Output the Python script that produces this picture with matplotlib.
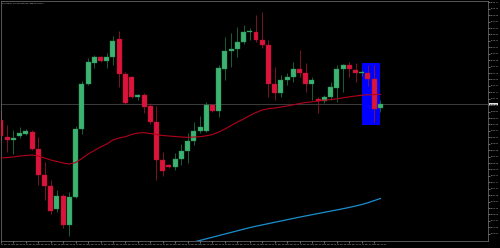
import matplotlib
matplotlib.use('Agg')
import matplotlib.pyplot as plt
import numpy as np
import pandas as pd
from matplotlib.patches import Rectangle

# 차트 헤더 텍스트
symbol_text = 'XAUUSD,H1  2389.58 2390.02 2388.81 2389.60'

# OHLC 데이터 (H1 캔들 62개)
opens = [2388.0, 2386.3, 2386.0, 2386.4, 2386.6, 2386.8, 2385.1, 2382.5, 2381.4, 2379.1,
         2380.4, 2377.5, 2380.3, 2387.1, 2391.6, 2393.7, 2394.3, 2393.9, 2394.3, 2396.1,
         2392.6, 2392.3, 2390.3, 2390.5, 2389.4, 2387.8, 2384.0, 2383.5, 2383.3, 2384.1,
         2384.9, 2385.9, 2386.9, 2386.9, 2389.5, 2388.9, 2393.1, 2394.9, 2395.1, 2395.8,
         2396.8, 2396.8, 2396.0, 2395.5, 2391.6, 2390.7, 2392.0, 2392.3, 2393.1, 2392.7,
         2391.6, 2390.1, 2389.9, 2390.3, 2391.2, 2393.1, 2393.5, 2393.0, 2392.7, 2392.7,
         2392.1, 2389.2]
highs = [2389.0, 2387.5, 2387.0, 2387.3, 2387.1, 2387.0, 2386.3, 2383.8, 2382.0, 2381.0,
         2380.6, 2380.8, 2387.4, 2391.9, 2394.2, 2394.5, 2394.4, 2394.7, 2396.4, 2396.9,
         2392.8, 2392.4, 2390.6, 2390.7, 2389.7, 2389.4, 2384.8, 2383.6, 2384.7, 2385.6,
         2386.7, 2387.8, 2388.4, 2389.8, 2389.6, 2393.5, 2396.3, 2396.7, 2397.3, 2397.5,
         2397.2, 2398.5, 2398.8, 2396.0, 2393.3, 2392.5, 2392.7, 2393.8, 2395.0, 2393.7,
         2392.3, 2390.3, 2390.5, 2391.8, 2393.5, 2393.6, 2393.8, 2393.7, 2393.0, 2393.5,
         2393.5, 2390.0]
lows = [2386.0, 2384.8, 2384.6, 2386.2, 2386.5, 2385.0, 2381.5, 2380.0, 2378.6, 2378.8,
        2377.2, 2376.4, 2380.2, 2386.6, 2391.5, 2393.2, 2393.8, 2393.2, 2393.5, 2391.3,
        2389.6, 2390.2, 2390.0, 2388.7, 2387.6, 2382.0, 2382.4, 2383.2, 2383.0, 2383.5,
        2383.7, 2385.5, 2386.7, 2386.8, 2388.8, 2388.3, 2392.0, 2393.3, 2394.3, 2395.6,
        2396.0, 2395.8, 2395.2, 2390.3, 2390.0, 2390.3, 2391.5, 2391.8, 2392.3, 2390.8,
        2390.0, 2388.7, 2389.7, 2390.0, 2389.8, 2390.8, 2392.3, 2391.8, 2392.4, 2391.4,
        2387.8, 2388.8]
closes = [2386.4, 2386.0, 2386.2, 2386.7, 2386.9, 2385.1, 2382.5, 2381.4, 2378.9, 2380.4,
          2377.5, 2380.3, 2387.1, 2391.6, 2393.8, 2394.3, 2393.9, 2394.3, 2395.9, 2392.6,
          2389.7, 2390.3, 2390.5, 2389.3, 2387.8, 2384.0, 2382.9, 2383.3, 2384.1, 2384.9,
          2385.9, 2386.9, 2387.3, 2389.5, 2388.9, 2393.2, 2394.9, 2395.1, 2395.8, 2396.8,
          2396.9, 2396.0, 2395.5, 2391.6, 2390.7, 2392.0, 2392.3, 2393.1, 2392.7, 2391.6,
          2392.0, 2389.9, 2390.3, 2391.3, 2393.1, 2393.5, 2393.1, 2392.7, 2392.8, 2392.1,
          2389.1, 2389.6]

# 이동평균선 (빨강: 단기, 파랑: 장기 - 30번째 캔들부터 보임)
ma_red = [2384.2, 2384.25, 2384.3, 2384.4, 2384.45, 2384.5, 2384.4, 2384.2, 2384.0, 2383.85,
          2383.7, 2383.6, 2383.75, 2384.15, 2384.6, 2384.95, 2385.3, 2385.6, 2386.0, 2386.2,
          2386.33, 2386.55, 2386.7, 2386.73, 2386.65, 2386.55, 2386.45, 2386.4, 2386.35, 2386.3,
          2386.27, 2386.3, 2386.33, 2386.42, 2386.55, 2386.8, 2387.1, 2387.45, 2387.8, 2388.1,
          2388.45, 2388.75, 2389.0, 2389.13, 2389.2, 2389.3, 2389.4, 2389.52, 2389.65, 2389.75,
          2389.82, 2389.9, 2389.98, 2390.05, 2390.12, 2390.22, 2390.32, 2390.4, 2390.48, 2390.52,
          2390.55, 2390.57]
ma_blue_start = 30
ma_blue = [2375.64, 2375.80, 2375.96, 2376.12, 2376.28, 2376.44, 2376.60, 2376.76, 2376.92, 2377.08,
           2377.24, 2377.38, 2377.51, 2377.64, 2377.77, 2377.90, 2378.03, 2378.16, 2378.29, 2378.41,
           2378.53, 2378.65, 2378.77, 2378.89, 2379.01, 2379.13, 2379.26, 2379.40, 2379.55, 2379.73,
           2379.94, 2380.15]

# 파란 박스 영역 (캔들 인덱스, 가격)
box_from, box_to = 58.1, 61.0
box_low, box_high = 2387.5, 2393.7

bid_price = 2389.60

# 시간축 라벨 (2캔들마다)
time_labels = list(pd.date_range('2024-05-13 02:00', periods=31, freq='2h').strftime('%d %b %H:%M'))

# 색상
bg = 'black'
green, green_edge, green_wick = '#3CB371', '#2A8A55', '#1F6F3F'
red, red_edge, red_wick = '#DC143C', '#A81030', '#8B1A2B'
fg = '#c0c0c0'

fig = plt.figure(figsize=(5, 2.48), dpi=100, facecolor=bg)
ax = fig.add_axes([0.001, 0.0282, 0.975, 0.9685], facecolor=bg)

x = np.arange(len(opens))
o = np.array(opens)
h = np.array(highs)
l = np.array(lows)
c = np.array(closes)
up = c >= o

# 박스 (캔들 뒤)
ax.add_patch(Rectangle((box_from, box_low), box_to - box_from, box_high - box_low,
                       facecolor='#0000FF', edgecolor='none', zorder=1))
# 현재가 라인
ax.axhline(bid_price, color='#3C3C3C', lw=0.7, zorder=0.8)

# 꼬리
ax.vlines(x[up], l[up], h[up], color=green_wick, lw=0.6, zorder=2)
ax.vlines(x[~up], l[~up], h[~up], color=red_wick, lw=0.6, zorder=2)

# 몸통
body_bottom = np.minimum(o, c)
body_h = np.maximum(np.abs(c - o), 0.08)
ax.bar(x[up], body_h[up], bottom=body_bottom[up], width=0.8, color=green,
       edgecolor=green_edge, lw=0.3, zorder=3)
ax.bar(x[~up], body_h[~up], bottom=body_bottom[~up], width=0.8, color=red,
       edgecolor=red_edge, lw=0.3, zorder=3)

# 이동평균선
ax.plot(x, ma_red, color='#B3001B', lw=0.8, zorder=4)
ax.plot(x[ma_blue_start:], ma_blue, color='#1A8FD0', lw=0.9, zorder=4)

ax.set_xlim(-0.08, 78.3)
ax.set_ylim(2375.9, 2399.92)

# 오른쪽 가격축
yt = np.arange(2399.77, 2376.0, -0.643)
ax.yaxis.tick_right()
ax.set_yticks(yt)
ax.set_yticklabels([f'{v:.2f}' for v in yt])
ax.tick_params(axis='y', labelsize=1.4, colors=fg, length=1.5, width=0.4, pad=0.8)

# 아래 시간축
ax.set_xticks(x[::2])
ax.set_xticklabels(time_labels, ha='left')
ax.tick_params(axis='x', labelsize=1.3, colors=fg, length=1.5, width=0.4, pad=0.6)

for sp in ax.spines.values():
    sp.set_color('#7a7a7a')
    sp.set_linewidth(0.5)

# 헤더 텍스트
ax.text(0.004, 0.993, symbol_text, transform=ax.transAxes, fontsize=1.3,
        color='#d0d0d0', va='top', ha='left')

# 현재가 라벨
ax.text(1.003, bid_price, f'{bid_price:.2f}', transform=ax.get_yaxis_transform(),
        fontsize=1.4, color='black', va='center', ha='left',
        bbox=dict(facecolor='#e0e0e0', edgecolor='none', pad=0.4))

fig.savefig('out.png', dpi=100, facecolor=bg)
plt.close(fig)
